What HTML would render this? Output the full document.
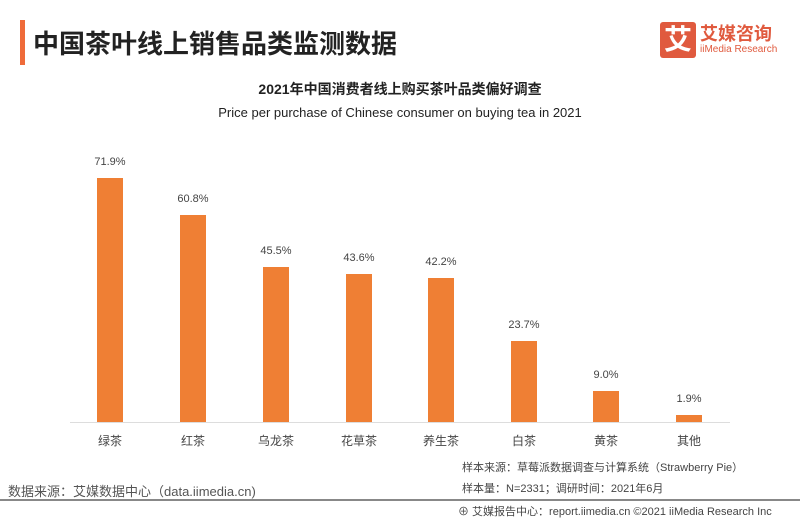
<!DOCTYPE html>
<html><head><meta charset="utf-8"><style>
body{margin:0;width:800px;height:519px;background:#fff;font-family:"Liberation Sans","Noto Sans CJK SC",sans-serif;position:relative;overflow:hidden}
.a{position:absolute;white-space:nowrap}
.bar{position:absolute;width:26px;background:#ef7f34}
.v{position:absolute;width:60px;text-align:center;font-size:11px;color:#444}
.c{position:absolute;width:60px;text-align:center;font-size:12px;color:#444;top:432px}
</style></head><body>
<div class="a" style="left:20px;top:20px;width:5px;height:45px;background:#ef6b3a"></div>
<div class="a" style="left:33px;top:24px;font-size:26px;font-weight:bold;color:#222">中国茶叶线上销售品类监测数据</div>
<div class="a" style="left:660px;top:22px;width:36px;height:36px;background:#e05a3e;border-radius:3px;color:#fff;font-size:28px;font-weight:bold;text-align:center;line-height:36px">艾</div>
<div class="a" style="left:700px;top:20px;font-size:18px;font-weight:bold;color:#e05a3e">艾媒咨询</div>
<div class="a" style="left:700px;top:44px;font-size:10px;color:#e05a3e">iiMedia Research</div>
<div class="a" style="left:0;width:800px;text-align:center;top:79px;font-size:14px;font-weight:bold;color:#222">2021年中国消费者线上购买茶叶品类偏好调查</div>
<div class="a" style="left:0;width:800px;text-align:center;top:105px;font-size:13px;color:#222">Price per purchase of Chinese consumer on buying tea in 2021</div>
<div class="a" style="left:70px;top:422px;width:660px;height:1px;background:#ddd"></div>
<div class="bar" style="left:97px;top:178px;height:244px"></div><div class="v" style="left:80px;top:156px">71.9%</div><div class="c" style="left:80px">绿茶</div>
<div class="bar" style="left:180px;top:215px;height:207px"></div><div class="v" style="left:163px;top:193px">60.8%</div><div class="c" style="left:163px">红茶</div>
<div class="bar" style="left:263px;top:267px;height:155px"></div><div class="v" style="left:246px;top:245px">45.5%</div><div class="c" style="left:246px">乌龙茶</div>
<div class="bar" style="left:346px;top:274px;height:148px"></div><div class="v" style="left:329px;top:252px">43.6%</div><div class="c" style="left:329px">花草茶</div>
<div class="bar" style="left:428px;top:278px;height:144px"></div><div class="v" style="left:411px;top:256px">42.2%</div><div class="c" style="left:411px">养生茶</div>
<div class="bar" style="left:511px;top:341px;height:81px"></div><div class="v" style="left:494px;top:319px">23.7%</div><div class="c" style="left:494px">白茶</div>
<div class="bar" style="left:593px;top:391px;height:31px"></div><div class="v" style="left:576px;top:369px">9.0%</div><div class="c" style="left:576px">黄茶</div>
<div class="bar" style="left:676px;top:415px;height:7px"></div><div class="v" style="left:659px;top:393px">1.9%</div><div class="c" style="left:659px">其他</div>
<div class="a" style="left:462px;top:459px;font-size:11px;color:#444">样本来源：草莓派数据调查与计算系统（Strawberry Pie）</div>
<div class="a" style="left:462px;top:480px;font-size:11px;color:#444">样本量：N=2331；调研时间：2021年6月</div>
<div class="a" style="left:8px;top:481px;font-size:13px;color:#555">数据来源：艾媒数据中心（data.iimedia.cn)</div>
<div class="a" style="left:0;top:499px;width:800px;height:2px;background:#888"></div>
<div class="a" style="left:458px;top:503px;font-size:11px;color:#444">⊕ 艾媒报告中心：report.iimedia.cn  ©2021  iiMedia Research  Inc</div>
</body></html>
